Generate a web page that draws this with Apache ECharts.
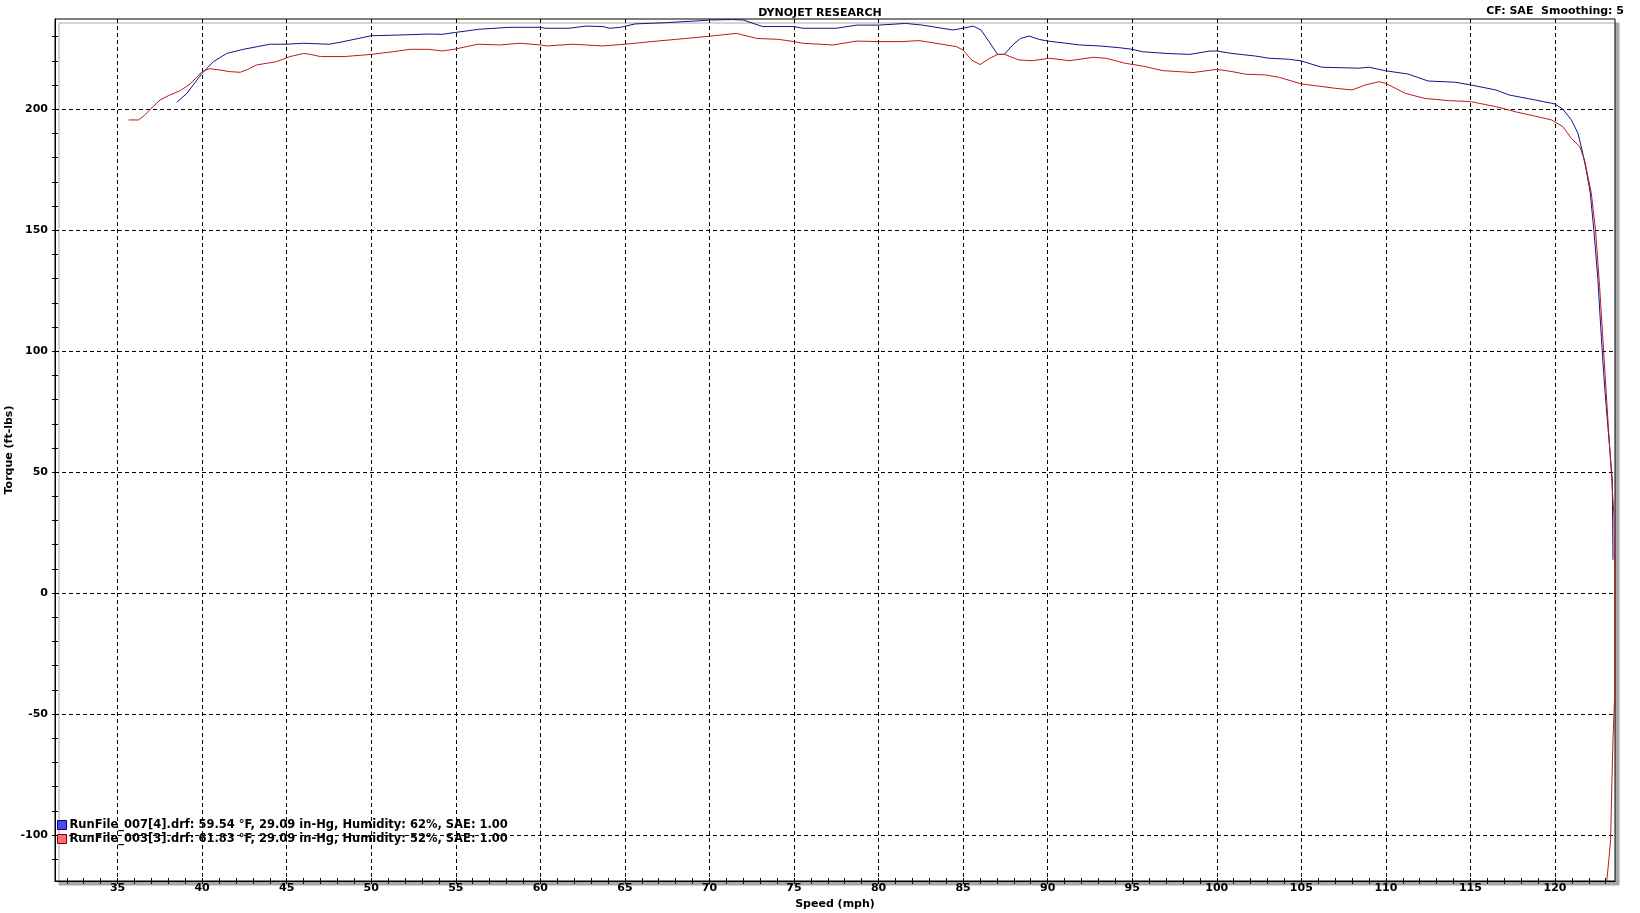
<!DOCTYPE html>
<html>
<head>
<meta charset="utf-8">
<script src="https://cdn.jsdelivr.net/npm/echarts@6/dist/echarts.min.js"></script>
<style>
html,body{margin:0;padding:0;background:#fff;}
#chart{width:1640px;height:913px;}
</style>
</head>
<body>
<div id="chart"></div>
<script>
// ---- data (speed mph, torque ft-lbs) ----
const runBlueName = 'RunFile_007[4].drf: 59.54 °F, 29.09 in-Hg, Humidity: 62%, SAE: 1.00';
const runRedName  = 'RunFile_003[3].drf: 61.83 °F, 29.09 in-Hg, Humidity: 52%, SAE: 1.00';

const runBlue = [
  [38.5,202.9],[39.1,206.6],[40.0,214.9],[40.67,219.7],[41.46,223.1],[42.45,224.8],[44.0,226.9],[45.0,226.9],
  [46.0,227.3],[47.5,226.9],[48.16,227.7],[50.0,230.4],[51.65,230.7],[53.4,231.1],[54.2,231.0],[55.0,231.8],
  [56.4,233.1],[58.2,233.9],[60.0,233.9],[60.3,233.5],[61.7,233.5],[62.7,234.4],[63.7,234.2],[64.1,233.5],
  [64.75,233.9],[65.6,235.3],[67.4,235.8],[69.4,236.6],[70.0,236.9],[71.3,237.1],[72.0,236.9],[73.15,234.2],
  [75.0,234.2],[75.5,233.5],[77.5,233.5],[78.7,234.8],[80.0,234.8],[81.6,235.5],[82.6,234.8],[84.4,232.8],
  [85.0,233.5],[85.6,234.4],[86.06,232.8],[86.55,227.8],[87.04,222.7],[87.44,222.7],[87.93,226.6],[88.4,229.3],
  [88.9,230.3],[89.5,228.9],[90.0,228.2],[91.1,227.3],[91.9,226.6],[93.05,226.2],[94.2,225.5],[95.0,224.8],
  [95.6,223.8],[97.0,223.1],[98.4,222.7],[99.6,224.1],[100.0,224.1],[100.9,223.1],[102.3,222.0],[103.1,221.1],
  [104.25,220.7],[105.0,220.0],[106.2,217.4],[108.4,217.0],[109.0,217.4],[110.0,215.9],[111.3,214.6],[112.5,211.7],
  [114.1,211.2],[115.0,210.1],[116.5,208.0],[117.3,205.9],[118.8,203.9],[119.8,202.5],[120.0,202.2],[120.47,200.0],
  [120.97,195.6],[121.36,190.1],[121.6,183.2],[121.85,174.9],[122.09,165.3],[122.3,150.0],[122.54,129.5],
  [122.74,106.1],[122.88,90.9],[123.03,77.1],[123.23,60.6],[123.39,46.8],[123.43,13.8]
];

const runRed = [
  [35.65,195.6],[36.24,195.6],[36.6,197.5],[36.93,200.0],[37.52,203.9],[38.0,205.6],[38.7,207.7],[39.3,210.5],
  [40.0,215.6],[40.45,216.8],[41.0,216.3],[41.6,215.6],[42.25,215.3],[42.7,216.5],[43.2,218.3],[44.4,219.7],
  [45.2,221.8],[46.0,223.1],[46.4,222.7],[47.0,221.8],[48.4,221.8],[50.0,222.7],[51.3,223.8],[52.3,224.8],
  [53.4,224.8],[54.2,224.1],[54.9,224.8],[56.3,226.9],[57.6,226.6],[58.8,227.3],[60.0,226.6],[60.4,226.2],
  [61.9,226.9],[62.7,226.6],[63.7,226.2],[65.0,226.9],[66.6,228.0],[68.0,228.9],[69.4,229.8],[70.0,230.2],
  [71.6,231.4],[72.8,229.3],[74.1,228.9],[75.0,228.0],[75.5,227.3],[77.3,226.6],[78.7,228.2],[80.0,228.0],
  [81.4,228.0],[82.4,228.4],[83.4,227.3],[84.6,225.9],[85.0,224.5],[85.5,220.4],[86.0,218.5],[86.55,221.0],
  [87.04,222.7],[87.44,222.7],[88.3,220.4],[89.1,220.1],[90.1,221.1],[91.3,220.1],[92.7,221.5],[93.45,221.1],
  [94.6,219.0],[95.6,217.9],[96.8,216.0],[98.6,215.2],[100.0,216.5],[100.9,215.6],[101.7,214.5],[102.9,214.2],
  [103.7,213.2],[105.0,210.5],[107.0,208.7],[108.0,208.0],[108.8,210.1],[109.6,211.4],[110.0,210.7],[111.15,206.6],
  [112.3,204.5],[113.7,203.6],[115.0,203.2],[116.5,201.1],[117.65,199.0],[118.8,197.2],[119.8,195.6],[120.47,192.8],
  [120.97,188.0],[121.46,184.6],[121.75,179.1],[121.95,172.2],[122.15,165.3],[122.4,150.0],[122.64,126.7],
  [122.88,100.0],[123.13,71.6],[123.33,50.0],[123.49,31.7],[123.53,10.0],[123.53,-42.8],[123.43,-60.7],
  [123.37,-77.3],[123.29,-102.0],[123.19,-110.0],[123.07,-118.5],[123.0,-125.0]
];

const xLabelValues = [35,40,45,50,55,60,65,70,75,80,85,90,95,100,105,110,115,120];
const xMinorValues = [32,33,34,35,36,37,38,39,40,41,42,43,44,45,46,47,48,49,50,51,52,53,54,55,56,57,58,59,60,
  61,62,63,64,65,66,67,68,69,70,71,72,73,74,75,76,77,78,79,80,81,82,83,84,85,86,87,88,89,90,91,92,93,94,95,96,97,98,99,
  100,101,102,103,104,105,106,107,108,109,110,111,112,113,114,115,116,117,118,119,120,121,122,123];
const yLabelValues = [-100,-50,0,50,100,150,200];
const yMinorValues = [-110,-100,-90,-80,-70,-60,-50,-40,-30,-20,-10,0,10,20,30,40,50,60,70,80,90,100,110,120,
  130,140,150,160,170,180,190,200,210,220,230];

const X_MIN = 31.3, X_MAX = 123.55, Y_MIN = -119, Y_MAX = 237.33;
const FONT = 'DejaVu Sans';

const chart = echarts.init(document.getElementById('chart'), null, {renderer: 'canvas'});

function xAx(extra) {
  return Object.assign({
    type: 'value', min: X_MIN, max: X_MAX, position: 'bottom', gridIndex: 0,
    axisLine: {show: false, onZero: false}, axisTick: {show: false}, axisLabel: {show: false}, splitLine: {show: false}
  }, extra);
}
function yAx(extra) {
  return Object.assign({
    type: 'value', min: Y_MIN, max: Y_MAX, position: 'left', gridIndex: 0,
    axisLine: {show: false, onZero: false}, axisTick: {show: false}, axisLabel: {show: false}, splitLine: {show: false}
  }, extra);
}
const dash = {color: '#000', width: 1, type: [4, 3]};
const labelFont = {color: '#000', fontFamily: FONT, fontWeight: 'bold', fontSize: 11};

chart.setOption({
  animation: false,
  backgroundColor: '#fff',
  title: [
    {text: 'DYNOJET RESEARCH', left: 'center', top: 3,
     textStyle: {color: '#000', fontFamily: FONT, fontWeight: 'bold', fontSize: 11}},
    {text: 'CF: SAE  Smoothing: 5', right: 11, top: 1,
     textStyle: {color: '#000', fontFamily: FONT, fontWeight: 'bold', fontSize: 11}}
  ],
  grid: {left: 55, top: 19, right: 25, bottom: 32, show: true, borderColor: '#000', borderWidth: 1,
         backgroundColor: '#fff', shadowColor: '#a8a8a8', shadowOffsetX: 4, shadowOffsetY: 4, shadowBlur: 0,
         containLabel: false, outerBoundsMode: 'none'},
  legend: {
    orient: 'vertical', left: 57, top: 819, padding: 0, itemWidth: 9, itemHeight: 9, itemGap: 2,
    selectedMode: false,
    textStyle: {color: '#000', fontFamily: FONT, fontWeight: 'bold', fontSize: 11.5, padding: [0,0,0,-2]},
    data: [
      {name: runBlueName, icon: 'rect', itemStyle: {color: '#4a4af0', borderColor: '#000070', borderWidth: 1}},
      {name: runRedName, icon: 'rect', itemStyle: {color: '#ff6a6a', borderColor: '#800000', borderWidth: 1}}
    ]
  },
  xAxis: [
    xAx({
      name: 'Speed (mph)', nameLocation: 'middle', nameGap: 18, nameMoveOverlap: false,
      nameTextStyle: {color: '#000', fontFamily: FONT, fontWeight: 'bold', fontSize: 11},
      axisLine: {show: true, onZero: false, lineStyle: {color: '#000', width: 1}},
      axisTick: {show: false, customValues: xLabelValues},
      axisLabel: Object.assign({show: true, customValues: xLabelValues, margin: 2}, labelFont),
      splitLine: {show: true, lineStyle: dash}
    }),
    xAx({axisTick: {show: true, customValues: xMinorValues, inside: true, length: 3, lineStyle: {color: '#000'}}}),
    xAx({axisTick: {show: true, customValues: xMinorValues, inside: false, length: 3, lineStyle: {color: '#000'}}})
  ],
  yAxis: [
    yAx({
      name: 'Torque (ft-lbs)', nameLocation: 'middle', nameGap: 40, nameMoveOverlap: false,
      nameTextStyle: {color: '#000', fontFamily: FONT, fontWeight: 'bold', fontSize: 11},
      axisLine: {show: true, onZero: false, lineStyle: {color: '#000', width: 1}},
      axisTick: {show: false, customValues: yLabelValues},
      axisLabel: Object.assign({show: true, customValues: yLabelValues, margin: 7}, labelFont),
      splitLine: {show: true, lineStyle: dash}
    }),
    yAx({axisTick: {show: true, customValues: yMinorValues, inside: true, length: 3, lineStyle: {color: '#000'}}}),
    yAx({axisTick: {show: true, customValues: yMinorValues, inside: false, length: 3, lineStyle: {color: '#000'}}})
  ],
  series: [
    {name: runBlueName, type: 'line', xAxisIndex: 0, yAxisIndex: 0, data: runBlue, showSymbol: false,
     symbol: 'none', clip: true, lineStyle: {color: '#12128c', width: 1}, itemStyle: {color: '#4a4af0'}},
    {name: runRedName, type: 'line', xAxisIndex: 0, yAxisIndex: 0, data: runRed, showSymbol: false,
     symbol: 'none', clip: true, lineStyle: {color: '#b41e1e', width: 1}, itemStyle: {color: '#ff6a6a'}}
  ]
});
</script>
</body>
</html>
